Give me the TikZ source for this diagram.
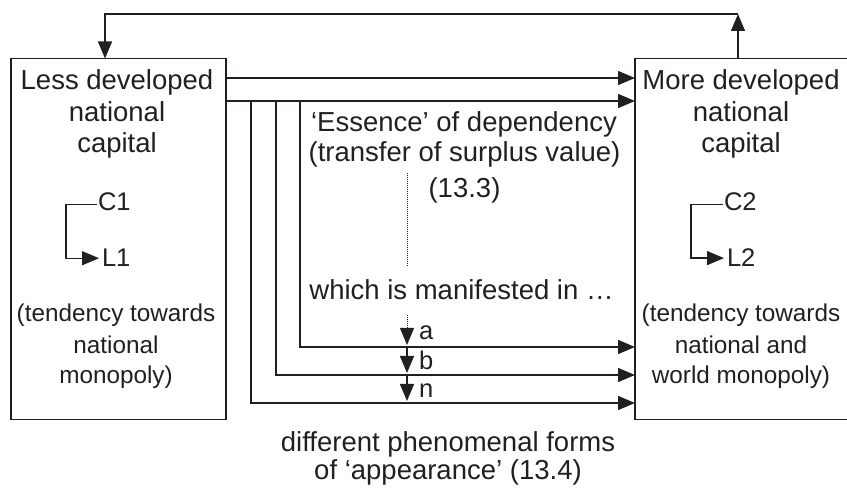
\documentclass[tikz,border=0pt]{standalone}
\usepackage{fontspec}
\setmainfont{Liberation Sans}
\usetikzlibrary{arrows.meta}
\definecolor{ink}{HTML}{231F20}
\begin{document}
\begin{tikzpicture}[x=1pt,y=-1pt,
  every node/.style={inner sep=0pt, outer sep=0pt, text=ink, font=\fontsize{27.5}{31.5}\selectfont},
  txt/.style={anchor=base},
  small/.style={font=\fontsize{24.3}{30}\selectfont},
  lbl/.style={anchor=base west, font=\fontsize{25.5}{30}\selectfont},
  box/.style={draw=ink, line width=1.4pt, anchor=north west},
  arr/.style={draw=ink, line width=1.4pt, -{Triangle[length=17pt,width=14pt]}},
  dots/.style={draw=ink, line width=1pt, dash pattern=on 1pt off 1pt}]
\useasboundingbox (0,0) rectangle (847,489);
\clip (0,0) rectangle (847,489);
% boxes
\node[box, minimum width=215pt, minimum height=361pt] (L) at (11,58.5) {};
\node[box, minimum width=220pt, minimum height=361pt] (R) at (635,58.5) {};
% left box text
\node[txt] (L1a) at (117,90) {Less developed};
\node[txt] (L1b) at (117,122) {national};
\node[txt] (L1c) at (117,153) {capital};
\node[lbl] (C1) at (98,211) {C1};
\node[lbl] (L1) at (102,267) {L1};
\node[txt, small] (L2a) at (116,322) {(tendency towards};
\node[txt, small] (L2b) at (116,354) {national};
\node[txt, small] (L2c) at (116,384) {monopoly)};
% right box text
\node[txt] (R1a) at (741,90) {More developed};
\node[txt] (R1b) at (741,122) {national};
\node[txt] (R1c) at (741,153) {capital};
\node[lbl] (C2) at (724,211) {C2};
\node[lbl] (L2) at (727,267) {L2};
\node[txt, small] (R2a) at (741,322) {(tendency towards};
\node[txt, small] (R2b) at (741,354) {national and};
\node[txt, small] (R2c) at (741,384) {world monopoly)};
% centre text
\node[txt] (E1) at (464,132) {‘Essence’ of dependency};
\node[txt] (E2) at (464.5,162) {(transfer of surplus value)};
\node[txt] (E3) at (464.5,198) {(13.3)};
\node[txt] (M) at (461.5,300) {which is manifested in …};
\node[lbl] (la) at (419,340) {a};
\node[lbl] (lb) at (419,370) {b};
\node[lbl] (ln) at (419,398) {n};
\node[txt] (B1) at (448,451) {different phenomenal forms};
\node[txt] (B2) at (448,479) {of ‘appearance’ (13.4)};
% top loop
\coordinate (tr) at (738,14);
\coordinate (tl) at (105,14);
\draw[arr] (R.north -| tr) -- (tr);
\draw[arr] (tr) -- (tl) -- (L.north -| tl);
% straight transfers
\coordinate (h1) at (0,78);
\coordinate (h2) at (0,101);
\draw[arr] (L.east |- h1) -- (R.west |- h1);
\draw[arr] (L.east |- h2) -- (R.west |- h2);
% forms a, b, n
\coordinate (va) at (300,101);
\coordinate (vb) at (276,101);
\coordinate (vn) at (251,101);
\coordinate (ya) at (0,347);
\coordinate (yb) at (0,375);
\coordinate (yn) at (0,403);
\draw[arr] (va) -- (va |- ya) -- (R.west |- ya);
\draw[arr] (vb) -- (vb |- yb) -- (R.west |- yb);
\draw[arr] (vn) -- (vn |- yn) -- (R.west |- yn);
% dotted and small arrows
\coordinate (d1) at (407,173);
\coordinate (d2) at (407,267);
\coordinate (d3) at (407,315);
\coordinate (ta) at (407,345);
\coordinate (sb) at (407,347);
\coordinate (tb) at (407,373);
\coordinate (sn) at (407,375);
\coordinate (tn) at (407,401);
\draw[dots] (d1) -- (d2);
\draw[arr, dots] (d3) -- (ta);
\draw[arr] (sb) -- (tb);
\draw[arr] (sn) -- (tn);
% C -> L brackets
\draw[arr] ([xshift=-1pt,yshift=-2pt]C1.west) -- ++(-31,0) |- ([xshift=-3pt]L1.west);
\draw[arr] ([xshift=-1pt,yshift=-2pt]C2.west) -- ++(-32,0) |- ([xshift=-3pt]L2.west);
\end{tikzpicture}
\end{document}
